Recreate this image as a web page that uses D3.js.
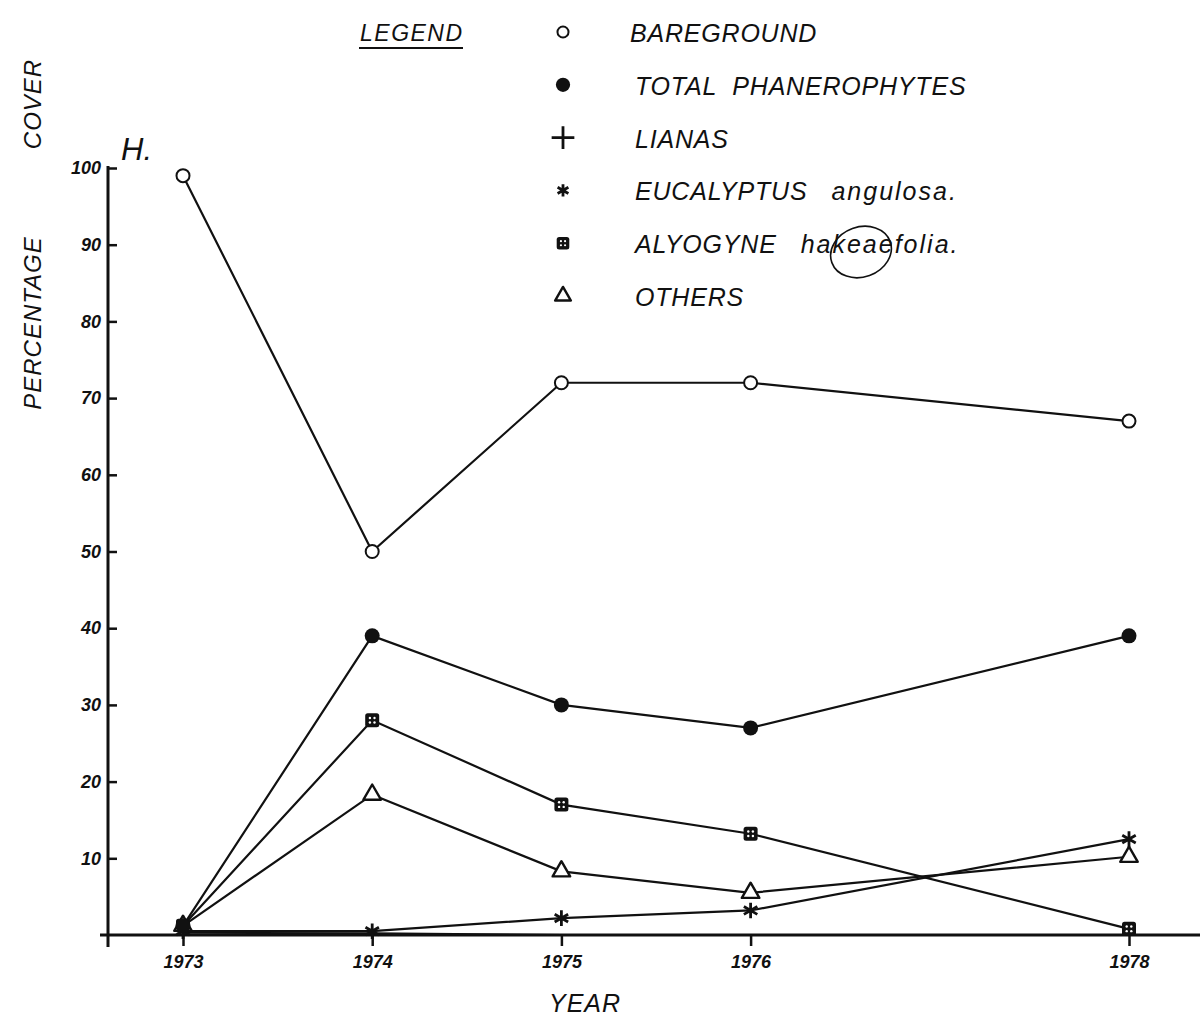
<!DOCTYPE html>
<html>
<head>
<meta charset="utf-8">
<script src="https://cdn.jsdelivr.net/npm/d3@7"></script>
<style>
  body { margin: 0; background: #fff; }
  svg { display: block; }
  text { font-family: "Liberation Sans", Arial, sans-serif; font-style: italic; fill: #111; }
  .tick text { font-weight: bold; font-size: 18px; }
  .tick line { stroke: #111; stroke-width: 2.5; }
  .axis-line { stroke: #111; stroke-width: 3; }
  .series-line { fill: none; stroke: #111; stroke-width: 2.2; }
  .legend-text { font-size: 25px; letter-spacing: 0.8px; }
  .legend-sub { letter-spacing: 2px; }
</style>
</head>
<body>
<div id="chart"></div>
<script>
// data
let years = [1973, 1974, 1975, 1976, 1978];
let bareground = [99, 50, 72, 72, 67];
let totalPhanerophytes = [1.2, 39, 30, 27, 39];
let lianas = [0.3, 0.2, 0, 0, 0];
let eucalyptus = [0.5, 0.5, 2.2, 3.2, 12.5];
let alyogyne = [1.2, 28, 17, 13.2, 0.8];
let others = [1.2, 18.3, 8.3, 5.5, 10.2];
let yTicks = [10, 20, 30, 40, 50, 60, 70, 80, 90, 100];

let series = [
    { key: "bare", label: "BAREGROUND", sub: "", values: bareground, mark: "openCircle" },
    { key: "total", label: "TOTAL  PHANEROPHYTES", sub: "", values: totalPhanerophytes, mark: "dot" },
    { key: "lianas", label: "LIANAS", sub: "", values: lianas, mark: "plus" },
    { key: "euc", label: "EUCALYPTUS", sub: "angulosa.", values: eucalyptus, mark: "asterisk" },
    { key: "aly", label: "ALYOGYNE", sub: "hakeaefolia.", values: alyogyne, mark: "square" },
    { key: "others", label: "OTHERS", sub: "", values: others, mark: "triangle" }
];

const W = 1200, H = 1021;

let svg = d3.select("#chart").append("svg")
    .attr("width", W)
    .attr("height", H);

let x = d3.scaleLinear().domain([1973, 1978]).range([183, 1129]);
let y = d3.scaleLinear().domain([0, 100]).range([935, 168]);

// axes
svg.append("line").attr("class", "axis-line")
    .attr("x1", 100).attr("x2", W).attr("y1", y(0)).attr("y2", y(0));
svg.append("line").attr("class", "axis-line")
    .attr("x1", 108).attr("x2", 108).attr("y1", y(100) - 2).attr("y2", y(0) + 12);

svg.append("g")
    .attr("transform", `translate(108,0)`)
    .call(d3.axisLeft(y).tickValues(yTicks).tickSize(-9).tickPadding(7).tickFormat(d3.format("d")))
    .call(g => g.select(".domain").remove());

svg.append("g")
    .attr("transform", `translate(0,${y(0)})`)
    .call(d3.axisBottom(x).tickValues(years).tickSize(11).tickPadding(9).tickFormat(d3.format("d")))
    .call(g => g.select(".domain").remove());

// titles
svg.append("text").attr("transform", "translate(41,323) rotate(-90)")
    .attr("text-anchor", "middle").attr("font-size", 24).attr("letter-spacing", 1).text("PERCENTAGE");
svg.append("text").attr("transform", "translate(41,104) rotate(-90)")
    .attr("text-anchor", "middle").attr("font-size", 24).attr("letter-spacing", 1).text("COVER");
svg.append("text").attr("x", 585).attr("y", 1012)
    .attr("text-anchor", "middle").attr("font-size", 25).attr("letter-spacing", 1).text("YEAR");
svg.append("text").attr("x", 121).attr("y", 160)
    .attr("font-size", 31).text("H.");

// markers
function drawMark(g, type, scale) {
    let s = scale || 1;
    if (type === "openCircle") {
        g.append("circle").attr("r", 6.5 * s).attr("fill", "#fff").attr("stroke", "#111").attr("stroke-width", 2);
    } else if (type === "dot") {
        g.append("circle").attr("r", 7.5 * s).attr("fill", "#111");
    } else if (type === "plus") {
        g.append("path").attr("d", d3.symbol(d3.symbolPlus, 170 * s * s)())
            .attr("fill", "none").attr("stroke", "#111").attr("stroke-width", 2.8);
    } else if (type === "asterisk") {
        g.append("path").attr("d", d3.symbol(d3.symbolAsterisk, 170 * s * s)())
            .attr("fill", "none").attr("stroke", "#111").attr("stroke-width", 2.8);
    } else if (type === "square") {
        let h = 7 * s;
        g.append("rect").attr("x", -h).attr("y", -h).attr("width", 2 * h).attr("height", 2 * h)
            .attr("rx", 2.5).attr("fill", "#111");
        [[-2.3, -2.3], [2.3, -2.3], [-2.3, 2.3], [2.3, 2.3]].forEach(p => {
            g.append("circle").attr("cx", p[0] * s).attr("cy", p[1] * s).attr("r", 1.2 * s).attr("fill", "#fff");
        });
    } else if (type === "triangle") {
        g.append("path").attr("d", d3.symbol(d3.symbolTriangle2, 220 * s * s)())
            .attr("fill", "#fff").attr("stroke", "#111").attr("stroke-width", 2.4)
            .attr("stroke-linejoin", "round");
    }
}

let line = d3.line()
    .x((d, i) => x(years[i]))
    .y(d => y(d));

let plot = svg.append("g");

series.forEach(s => {
    plot.append("path").attr("class", "series-line").attr("d", line(s.values));
});

// total phanerophytes drawn last so its dot sits on top at 1973
let markOrder = ["bare", "lianas", "euc", "aly", "others", "total"];
markOrder.forEach(k => {
    let s = series.find(d => d.key === k);
    s.values.forEach((v, i) => {
        if (s.key === "lianas") return;
        let g = plot.append("g").attr("transform", `translate(${x(years[i])},${y(v)})`);
        drawMark(g, s.mark, 1);
    });
});

// legend
let legendY = d3.scalePoint().domain(series.map(s => s.key)).range([32, 296]);

svg.append("text").attr("x", 360).attr("y", 41).attr("font-size", 23).attr("letter-spacing", 1.5).text("LEGEND");
svg.append("line").attr("x1", 359).attr("x2", 463).attr("y1", 48).attr("y2", 48)
    .attr("stroke", "#111").attr("stroke-width", 2.2);

series.forEach(s => {
    let gy = legendY(s.key);
    let g = svg.append("g").attr("transform", `translate(563,${gy})`);
    let sc = { openCircle: 0.85, dot: 0.95, plus: 1, asterisk: 0.8, square: 0.9, triangle: 0.9 }[s.mark];
    drawMark(g, s.mark, sc);
    let t = svg.append("text").attr("class", "legend-text")
        .attr("x", s.key === "bare" ? 630 : 635).attr("y", gy + 10)
        .attr("xml:space", "preserve").text(s.label);
    if (s.sub) {
        t.append("tspan").attr("class", "legend-sub").attr("dx", 24).text(s.sub);
    }
});

// hand-drawn ring around part of the name
svg.append("ellipse").attr("cx", 861).attr("cy", 252).attr("rx", 31).attr("ry", 25)
    .attr("transform", "rotate(-20,861,252)")
    .attr("fill", "none").attr("stroke", "#111").attr("stroke-width", 1.6);
</script>
</body>
</html>
